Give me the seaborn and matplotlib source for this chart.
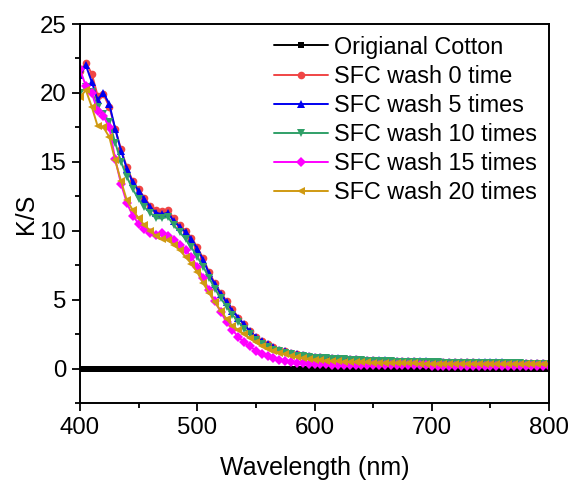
import numpy as np
import pandas as pd
import matplotlib
matplotlib.use("Agg")
import matplotlib.pyplot as plt
import seaborn as sns
from matplotlib.ticker import MultipleLocator

wavelength = list(range(400, 801, 5))

orig_cotton = [0.0] * 81

sfc_0 = [21.6, 22.2, 21.4, 19.8, 19.9, 19.0, 17.4, 15.9, 14.6, 13.6, 13.0, 12.4, 11.8, 11.5, 11.4, 11.5,
         10.9, 10.4, 10.0, 9.5, 8.8, 8.0, 7.0, 6.2, 5.5, 4.9, 4.3, 3.7, 3.2, 2.7, 2.3, 2.0, 1.75, 1.55,
         1.38, 1.24, 1.12, 1.03, 0.96, 0.9, 0.85,
         0.81, 0.78, 0.75, 0.72, 0.70, 0.68, 0.66, 0.64, 0.62, 0.60, 0.58, 0.57, 0.56, 0.55, 0.54, 0.53,
         0.52, 0.51, 0.50, 0.49, 0.48, 0.47, 0.46, 0.46, 0.45, 0.44, 0.44, 0.43, 0.43, 0.42, 0.42, 0.41,
         0.41, 0.40, 0.40, 0.40, 0.39, 0.39, 0.39, 0.38]

sfc_5 = [21.3, 22.0, 20.8, 19.5, 20.0, 19.2, 17.4, 15.8, 14.5, 13.5, 12.9, 12.3, 11.7, 11.3, 11.2, 11.3,
         10.7, 10.3, 9.9, 9.4, 8.7, 7.9, 6.9, 6.1, 5.4, 4.8, 4.2, 3.7, 3.2, 2.7, 2.3, 2.0, 1.75, 1.55,
         1.38, 1.24, 1.12, 1.03, 0.96, 0.9, 0.85,
         0.82, 0.79, 0.76, 0.73, 0.71, 0.69, 0.67, 0.65, 0.63, 0.61, 0.60, 0.59, 0.58, 0.57, 0.56, 0.55,
         0.54, 0.53, 0.52, 0.51, 0.50, 0.49, 0.48, 0.48, 0.47, 0.46, 0.46, 0.45, 0.45, 0.44, 0.44, 0.44,
         0.43, 0.43, 0.43, 0.42, 0.42, 0.42, 0.42, 0.42]

sfc_10 = [20.0, 20.4, 20.1, 19.0, 18.5, 17.9, 16.4, 15.0, 13.9, 13.0, 12.3, 11.7, 11.3, 10.9, 10.9, 11.0,
          10.4, 9.9, 9.4, 8.8, 8.1, 7.4, 6.6, 5.8, 5.1, 4.5, 3.9, 3.4, 2.9, 2.5, 2.1, 1.8, 1.55, 1.38,
          1.24, 1.12, 1.02, 0.94, 0.88, 0.83, 0.79,
          0.76, 0.73, 0.70, 0.68, 0.66, 0.64, 0.62, 0.60, 0.58, 0.56, 0.55, 0.54, 0.52, 0.51, 0.50, 0.49,
          0.48, 0.47, 0.46, 0.45, 0.44, 0.43, 0.42, 0.42, 0.41, 0.40, 0.40, 0.39, 0.39, 0.38, 0.38, 0.38,
          0.37, 0.37, 0.37, 0.36, 0.36, 0.36, 0.36, 0.36]

sfc_15 = [21.7, 20.5, 20.0, 18.7, 18.3, 17.5, 15.2, 13.4, 12.0, 11.1, 10.5, 10.1, 9.85, 9.7, 9.8, 9.6,
          9.3, 9.0, 8.6, 8.1, 7.4, 6.6, 5.7, 4.9, 4.1, 3.4, 2.8, 2.3, 1.9, 1.6, 1.3, 1.05, 0.88, 0.74,
          0.62, 0.53, 0.46, 0.41, 0.37, 0.34, 0.32,
          0.31, 0.30, 0.29, 0.28, 0.28, 0.27, 0.27, 0.26, 0.26, 0.25, 0.25, 0.25, 0.24, 0.24, 0.24, 0.23,
          0.23, 0.23, 0.23, 0.22, 0.22, 0.22, 0.22, 0.22, 0.21, 0.21, 0.21, 0.21, 0.21, 0.21, 0.20, 0.20,
          0.20, 0.20, 0.20, 0.20, 0.20, 0.20, 0.20, 0.20]

sfc_20 = [19.7, 20.2, 19.0, 17.6, 17.5, 16.8, 15.1, 13.6, 12.2, 11.5, 10.9, 10.4, 10.0, 9.6, 9.4, 9.3,
          9.0, 8.6, 8.1, 7.6, 7.0, 6.2, 5.5, 4.8, 4.2, 3.6, 3.1, 2.8, 2.5, 2.2, 1.9, 1.65, 1.45, 1.3,
          1.15, 1.02, 0.92, 0.83, 0.76, 0.7, 0.65,
          0.61, 0.58, 0.55, 0.53, 0.51, 0.49, 0.47, 0.45, 0.44, 0.43, 0.42, 0.41, 0.40, 0.39, 0.38, 0.37,
          0.37, 0.36, 0.36, 0.35, 0.35, 0.34, 0.34, 0.33, 0.33, 0.33, 0.32, 0.32, 0.32, 0.32, 0.31, 0.31,
          0.31, 0.31, 0.31, 0.30, 0.30, 0.30, 0.30, 0.30]

labels = ["Origianal Cotton", "SFC wash 0 time", "SFC wash 5 times",
          "SFC wash 10 times", "SFC wash 15 times", "SFC wash 20 times"]
series = [orig_cotton, sfc_0, sfc_5, sfc_10, sfc_15, sfc_20]

colors = ["#000000", "#F04545", "#0000F0", "#30A068", "#FF00FF", "#D09A12"]
markers = ["s", "o", "^", "v", "D", "<"]
msizes = [4.5, 5.5, 6, 6, 5, 6]

frames = []
for lab, vals in zip(labels, series):
    frames.append(pd.DataFrame({"Wavelength": wavelength, "KS": vals, "Sample": lab}))
df = pd.concat(frames, ignore_index=True)

sns.set_theme(style="ticks")
plt.rcParams["font.family"] = ["Liberation Sans", "DejaVu Sans"]
plt.rcParams["text.color"] = "black"
plt.rcParams["axes.labelcolor"] = "black"
plt.rcParams["xtick.color"] = "black"
plt.rcParams["ytick.color"] = "black"

fig = plt.figure(figsize=(5.72, 4.8), dpi=100)
ax = fig.add_axes([80 / 572, 1 - 403 / 480, (549 - 80) / 572, (403 - 24) / 480])

for lab, col, mk, ms in zip(labels, colors, markers, msizes):
    sub = df[df["Sample"] == lab]
    sns.lineplot(data=sub, x="Wavelength", y="KS", ax=ax, color=col, marker=mk,
                 markersize=ms, markeredgewidth=0, linewidth=1.4, label=lab)

ax.set_xlim(400, 800)
ax.set_ylim(-2.5, 25)
ax.xaxis.set_major_locator(MultipleLocator(100))
ax.xaxis.set_minor_locator(MultipleLocator(50))
ax.yaxis.set_major_locator(MultipleLocator(5))
ax.yaxis.set_minor_locator(MultipleLocator(2.5))
ax.tick_params(which="major", direction="out", length=6, width=1.3, labelsize=17.3,
               colors="black", labelcolor="black", pad=4)
ax.tick_params(which="minor", direction="out", length=3.5, width=1.3, colors="black")
ax.tick_params(top=False, right=False, which="both")
for sp in ax.spines.values():
    sp.set_visible(True)
    sp.set_linewidth(1.4)
    sp.set_color("black")

ax.set_xlabel("Wavelength (nm)", fontsize=18, labelpad=12, color="black")
ax.set_ylabel("K/S", fontsize=18, labelpad=1, color="black")

leg = ax.legend(loc="upper right", frameon=False, fontsize=16.8, handlelength=2.28,
                labelspacing=0.26, handletextpad=0.29, bbox_to_anchor=(1.0, 1.0),
                borderaxespad=0.2, borderpad=0.3, labelcolor="black")

fig.savefig("out.png", dpi=100)
